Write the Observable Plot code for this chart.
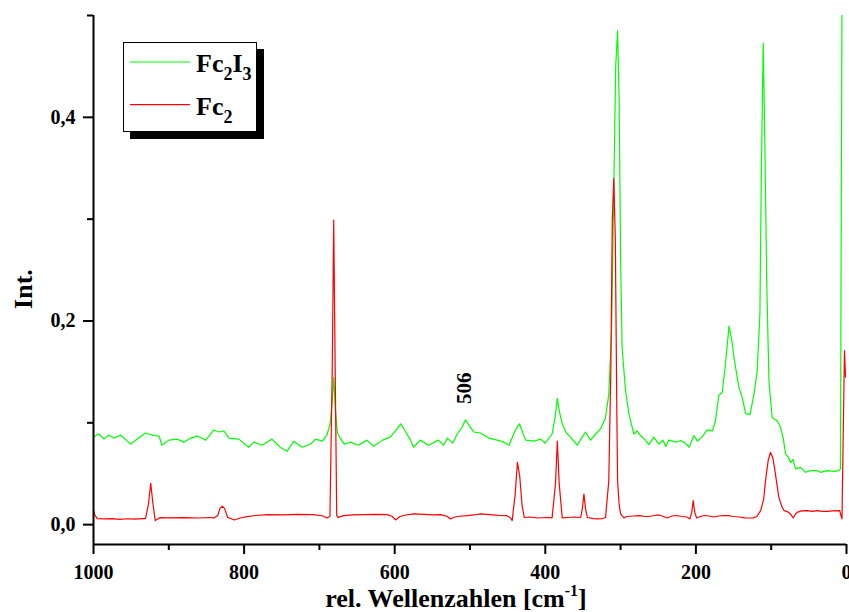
<!DOCTYPE html>
<html><head><meta charset="utf-8">
<script src="https://cdn.jsdelivr.net/npm/d3@7"></script>
<script src="https://cdn.jsdelivr.net/npm/@observablehq/plot@0.6"></script>
<style>body{margin:0;background:#fff} #chart{position:relative;width:849px;height:612px}</style>
</head><body><div id="chart"></div>
<script>
const xDomain = [1000, 0];
const yDomain = [-0.0195, 0.5];
const xMajorTicks = [1000, 800, 600, 400, 200, 0];
const xMinorTicks = [900, 700, 500, 300, 100];
const yMajorTicks = [0, 0.2, 0.4];
const yMinorTicks = [0.1, 0.3, 0.5];
const seriesColors = ["#00ff00", "#ff0000"];
const legendLabels = [
  [["Fc", ""], ["2", "sub"], ["I", ""], ["3", "sub"]],
  [["Fc", ""], ["2", "sub"]]
];
const xLabel = [["rel. Wellenzahlen [cm", ""], ["-1", "sup"], ["]", ""]];
const yLabel = "Int.";

// Fc2I3 (green): [wavenumber, intensity]
const fc2i3 = [
[1000,.086],[993,.089],[986,.084],[980,.088],[973,.085],[964,.088],[955,.082],[951,.079],[940,.085],[931,.090],
[922,.088],[913,.087],[909,.078],[900,.083],[889,.084],[880,.081],[871,.085],[862,.087],[851,.083],[840,.093],
[833,.091],[827,.092],[820,.085],[807,.084],[794,.076],[787,.081],[776,.078],[763,.084],[752,.076],[743,.072],
[734,.082],[723,.076],[712,.079],[705,.084],[696,.082],[690,.088],[686,.098],[683,.120],[681,.145],[679,.115],
[676,.090],[674,.087],[667,.079],[659,.081],[648,.078],[637,.083],[628,.077],[616,.083],[606,.086],[598,.093],
[592,.099],[586,.092],[579,.083],[575,.076],[566,.083],[555,.078],[542,.083],[535,.078],[530,.085],[523,.080],
[517,.089],[511,.095],[506,.103],[500,.096],[495,.091],[486,.090],[475,.085],[464,.083],[455,.081],[448,.078],
[442,.089],[438,.095],[434,.099],[430,.090],[426,.083],[415,.082],[406,.084],[400,.080],[391,.089],[387,.105],
[384,.124],[381,.110],[377.5,.099],[372,.090],[366.5,.086],[357.6,.078],[352,.085],[346.6,.091],[340,.083],[333,.089],
[326.7,.094],[320,.105],[315.7,.128],[312,.19],[309,.33],[306.5,.45],[304,.485],[302,.42],[300,.26],[298,.174],
[293.5,.132],[289,.109],[282.4,.089],[278,.092],[273.6,.0875],[267,.083],[262.4,.0786],[256,.086],[249,.079],[244,.083],
[240,.0767],[236,.083],[227,.081],[220,.0826],[214,.080],[209,.076],[202.6,.0875],[198,.082],[191.6,.0865],[185,.093],
[178,.092],[174,.102],[169.6,.127],[165,.130],[160.7,.158],[156,.195],[152.5,.182],[149.4,.164],[143,.135],[138.5,.125],
[134,.109],[128,.108],[123,.128],[118.6,.151],[115,.207],[113,.35],[110.6,.473],[108.5,.38],[106,.24],[103,.1415],
[98.7,.105],[92,.102],[87.6,.0956],[84,.085],[81,.0695],[77,.066],[74.4,.061],[71,.064],[67.7,.0547],[61,.0563],
[54.4,.0514],[47.8,.053],[39,.053],[34.5,.0514],[25.6,.053],[16.8,.0524],[10,.053],[8,.0547],[7,.3],[6,.52]
];

// Fc2 (red): [wavenumber, intensity]
const fc2 = [
[1000,.014],[998,.009],[995,.006],[985,.0056],[975,.006],[965,.0052],[955,.0058],[945,.0055],[935,.006],[931,.006],
[927,.02],[924,.0406],[921,.02],[918,.004],[912,.0068],[900,.0066],[880,.0068],[860,.0065],[845,.007],[840,.0066],
[835,.009],[832,.016],[829,.018],[826,.016],[822,.0072],[813,.0046],[805,.0065],[796,.0079],[785,.009],[769,.0098],
[750,.0095],[730,.01],[708,.0098],[695,.0085],[690,.0066],[686,.008],[683,.15],[681,.299],[679,.15],[677,.009],
[675,.0072],[668,.0088],[655,.0095],[641,.0098],[625,.01],[610,.0098],[603,.008],[599,.0046],[593,.008],[585,.0095],
[575,.0105],[560,.01],[550,.0095],[539,.0098],[530,.008],[526,.0056],[520,.0075],[511,.0085],[504,.0088],[495,.0095],
[486,.0105],[470,.0095],[460,.009],[451,.0088],[446,.0065],[444,.004],[440,.03],[437,.0612],[434,.048],[431,.02],
[428,.007],[420,.0075],[410,.0065],[397,.007],[391,.0066],[386.5,.04],[384,.082],[381.5,.04],[377.5,.0066],[370,.007],
[362,.0075],[353,.007],[351,.015],[348.7,.030],[346.5,.015],[344,.007],[336,.006],[331,.0056],[324,.006],[320,.007],
[315.7,.043],[313,.15],[311,.30],[309,.34],[307,.28],[305,.11],[304,.043],[302,.02],[300,.0105],[295.6,.0066],
[292,.008],[283,.0085],[274,.0088],[268,.008],[262,.008],[255,.009],[249,.0095],[243,.008],[238,.0065],[232,.0085],
[227,.009],[218,.008],[212,.0075],[208,.0056],[205.5,.012],[203.6,.0236],[201.5,.012],[199,.0065],[194,.008],[189,.009],
[182,.0085],[176,.0075],[170,.0085],[163,.009],[157,.0088],[150,.008],[142,.0075],[135,.0066],[128,.0065],[124,.0066],
[119,.008],[114,.0138],[110,.025],[107.6,.043],[104,.063],[101,.071],[98,.066],[95.6,.056],[92.5,.04],[89.9,.027],
[86,.018],[83,.0138],[79.5,.013],[76.6,.012],[73,.009],[70.8,.0066],[68,.01],[65.6,.012],[60,.0135],[52.4,.0138],
[45,.013],[39,.0138],[32,.013],[25.6,.013],[18,.0135],[9,.0138],[7,.008],[6,.0056],[2.7,.171],[1.3,.145]
];

const annotations = [{w: 508, i: 0.134, label: "506"}];

const font = "'Liberation Serif','Times New Roman',Times,serif";
const fmt = d => d.toFixed(1).replace(".", ",");
const rows = arr => arr.map(([w, i]) => ({w, i}));

const plot = Plot.plot({
  width: 849, height: 612,
  marginLeft: 93, marginRight: 3, marginTop: 15, marginBottom: 68,
  style: {fontFamily: font, fontWeight: "bold", fontSize: "20px", background: "#fff", color: "#000", overflow: "visible"},
  x: {domain: xDomain},
  y: {domain: yDomain},
  marks: [
    Plot.line(rows(fc2i3), {x: "w", y: "i", stroke: seriesColors[0], strokeWidth: 1.2, clip: true}),
    Plot.line(rows(fc2), {x: "w", y: "i", stroke: seriesColors[1], strokeWidth: 1.2, clip: true}),
    Plot.text(annotations, {x: "w", y: "i", text: "label", rotate: -90, fontSize: 21, fontWeight: "bold", fill: "#000"}),
    Plot.ruleX([xDomain[0]], {stroke: "#000", strokeWidth: 2}),
    Plot.ruleY([yDomain[0]], {stroke: "#000", strokeWidth: 2}),
    Plot.axisY(yMajorTicks, {tickSize: 10, tickPadding: 8, tickFormat: fmt, strokeWidth: 2, label: null}),
    Plot.axisY(yMinorTicks, {tickSize: 6, tickFormat: () => "", strokeWidth: 2, label: null}),
    Plot.axisX(xMajorTicks, {tickSize: 10, tickPadding: 10, tickFormat: d => String(d), strokeWidth: 2, label: null}),
    Plot.axisX(xMinorTicks, {tickSize: 6, tickFormat: () => "", strokeWidth: 2, label: null})
  ]
});

const svg = d3.select(plot);
const g = svg.append("g").attr("font-family", font).attr("font-weight", "bold").attr("fill", "#000");

// legend with shadow
g.append("rect").attr("x", 130).attr("y", 49).attr("width", 134).attr("height", 90).attr("fill", "#000");
g.append("rect").attr("x", 123.5).attr("y", 42.5).attr("width", 133).attr("height", 89)
  .attr("fill", "#fff").attr("stroke", "#000").attr("stroke-width", 1);
legendLabels.forEach((parts, k) => {
  const ly = 62 + k * 42.7;
  g.append("line").attr("x1", 130).attr("x2", 190).attr("y1", ly).attr("y2", ly)
    .attr("stroke", seriesColors[k]).attr("stroke-width", 1.2);
  const t = g.append("text").attr("x", 196).attr("y", 71.7 + k * 43.3)
    .attr("font-size", 26).attr("text-anchor", "start");
  let lowered = false;
  parts.forEach(([s, kind]) => {
    const ts = t.append("tspan").text(s);
    if (kind === "sub" && !lowered) { ts.attr("dy", 8).attr("font-size", 18); lowered = true; }
    else if (kind === "sub") { ts.attr("font-size", 18); }
    else if (lowered) { ts.attr("dy", -8); lowered = false; }
  });
});

// y label
g.append("text").attr("transform", "translate(32,289) rotate(-90)").attr("text-anchor", "middle")
  .attr("font-size", 26).text(yLabel);

// x label
const xl = g.append("text").attr("x", 456).attr("y", 607).attr("text-anchor", "middle").attr("font-size", 26);
xLabel.forEach(([s, kind]) => {
  const ts = xl.append("tspan").text(s);
  if (kind === "sup") ts.attr("dy", -11).attr("font-size", 16);
  else if (s === "]") ts.attr("dy", 11);
});

document.getElementById("chart").appendChild(plot);
</script>
</body></html>
